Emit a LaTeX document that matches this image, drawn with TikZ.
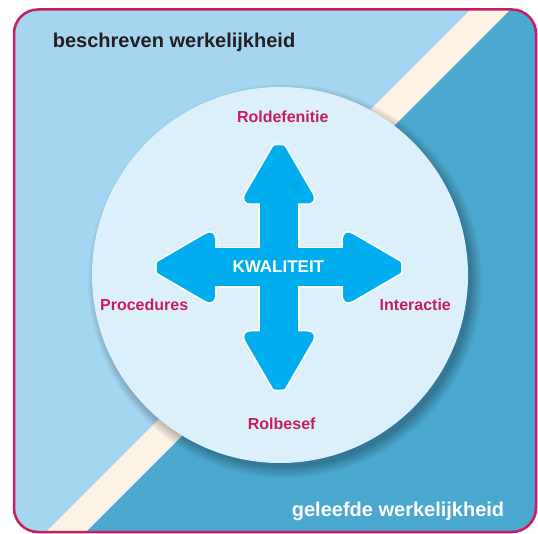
\documentclass[tikz,border=0pt]{standalone}
\usepackage{fontspec}
\setmainfont{Liberation Sans}
\definecolor{skylight}{HTML}{A4D6F2}
\definecolor{skydark}{HTML}{4BA8CF}
\definecolor{cream}{HTML}{FDF3E4}
\definecolor{discfill}{HTML}{DCF0FB}
\definecolor{crosscyan}{HTML}{00AEEF}
\definecolor{berry}{HTML}{C81D5E}
\definecolor{inkdark}{HTML}{231F20}

\begin{document}
\begin{tikzpicture}[x=1pt,y=-1pt,
  facet/.style={font=\bfseries\fontsize{16}{18}\selectfont, text=berry, inner sep=0pt, anchor=base},
  heading/.style={font=\bfseries\fontsize{20}{24}\selectfont, inner sep=0pt, anchor=base west},
  core/.style={font=\bfseries\fontsize{17}{20}\selectfont, text=white, inner sep=0pt, anchor=base},
  crossedge/.style={draw=white, line width=3.5},
  crossbody/.style={fill=crosscyan},
  frame/.style={rounded corners=24}]
\useasboundingbox (0,0) rectangle (538,534);

% background: two realities split by a cream band
\begin{scope}
  \clip[frame] (14,9.5) rectangle (536,532);
  \fill[skylight] (0,0) rectangle (538,534);
  \fill[cream] (530,-50) -- (242.5,237.5) -- (291.5,286.5) -- (-22,600)
    -- (600,600) -- (600,-50) -- cycle;
  \fill[skydark] (570,-50) -- (262.5,257.5) -- (311.5,306.5) -- (18,600)
    -- (600,600) -- (600,-50) -- cycle;
  % soft shadow under the disc, cast towards the lower right
  \foreach \k in {1,...,12}
    \fill[black, opacity=0.022] (285,281) circle ({185+\k});
  \fill[discfill] (280,275) circle (188);
\end{scope}
\draw[berry, line width=2.5, frame] (14,9.5) rectangle (536,532);

% four-way arrow cross: white outline pass, then cyan body pass
\begin{scope}[shift={(279,267.5)}]
  \foreach \sty in {crossedge, crossbody} {
    \path[\sty] (-66,-19) rectangle (66,19);
    \path[\sty] (-19,-66) rectangle (19,66);
    \foreach \ang in {0,90,180,270} {
      \path[\sty, rotate=\ang, rounded corners=11]
        (39,-64) -- (11.07,-112)
        .. controls (4.98,-122.45) and (-4.98,-122.45) .. (-11.07,-112)
        -- (-39,-64) -- cycle;
    }
  }
\end{scope}

\node[core] (kwaliteit) at (278.3,272.7) {KWALITEIT};

\node[facet] (roldefenitie) at (282.8,122.3) {Roldefenitie};
\node[facet] (procedures) at (144.2,310.7) {Procedures};
\node[facet] (interactie) at (415.3,310.7) {Interactie};
\node[facet] (rolbesef) at (281.7,429) {Rolbesef};

\node[heading, text=inkdark] (beschreven) at (52.7,47.7) {beschreven werkelijkheid};
\node[heading, text=white] (geleefde) at (291.7,516) {geleefde werkelijkheid};
\end{tikzpicture}
\end{document}
